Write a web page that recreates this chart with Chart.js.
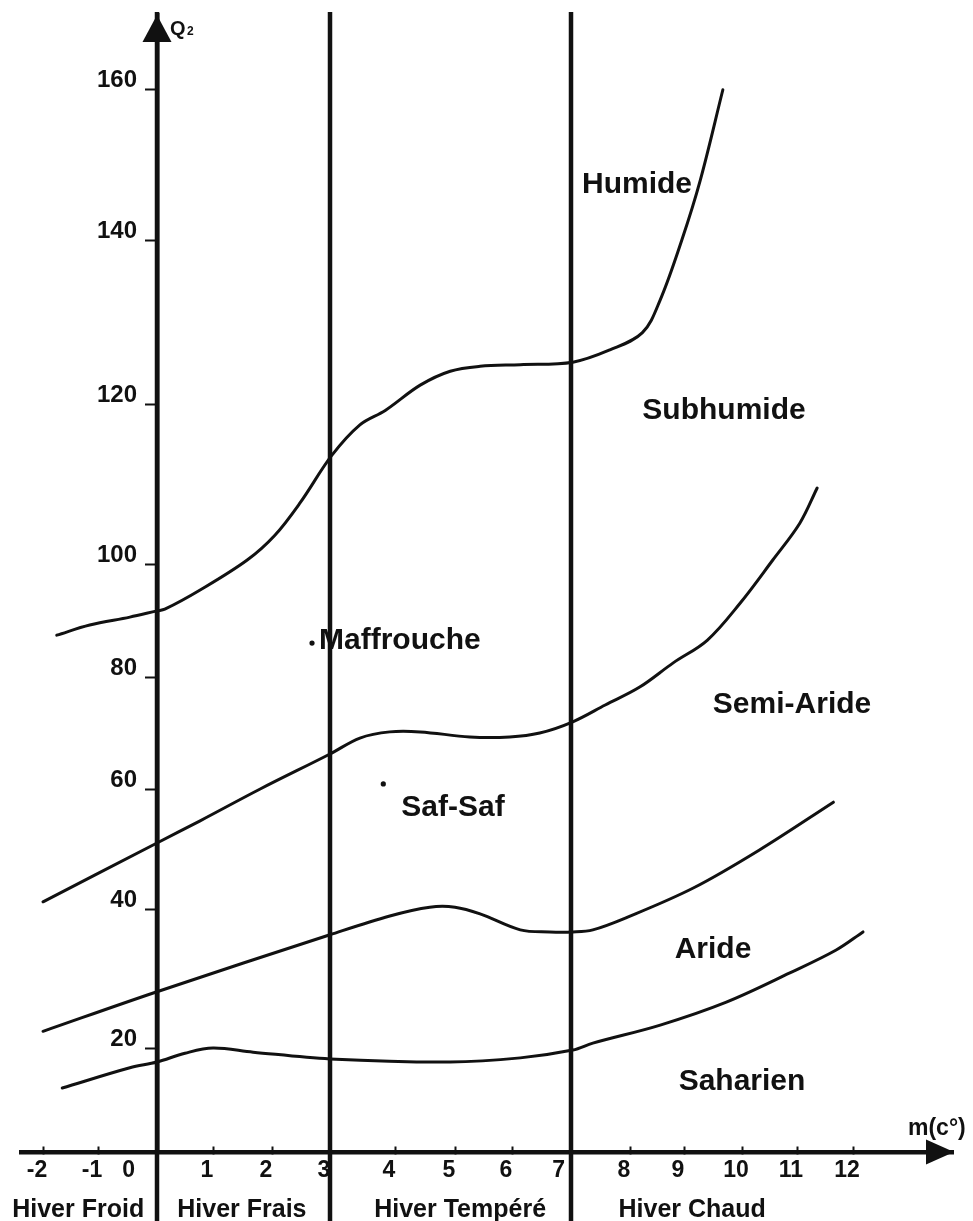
<!DOCTYPE html>
<html>
<head>
<meta charset="utf-8">
<script src="https://cdn.jsdelivr.net/npm/chart.js@4/dist/chart.umd.min.js"></script>
<style>
html,body{margin:0;padding:0;background:#fff;}
canvas{display:block;}
</style>
</head>
<body>
<canvas id="c" width="973" height="1221"></canvas>
<script>
// ---------------- DATA ----------------
const xTickValues = [-2,-1,0,1,2,3,4,5,6,7,8,9,10,11,12];
const xTickLabels = ['-2','-1','0','1','2','3','4','5','6','7','8','9','10','11','12'];
const yTickValues = [20,40,60,80,100,120,140,160];

// Limit Humide / Subhumide
const humideM  = [-1.75,-1.15,-0.46,0,0.14,0.77,1.58,2.05,2.48,3.03,3.46,3.85,4.42,4.92,5.44,6.14,7.03,7.66,8.23,8.56,8.96,9.28,9.67];
const humideQ2 = [87.4,89.2,90.6,91.7,92.0,95.4,100.5,103.6,107.6,113.6,117.4,119.2,122.3,124.0,124.6,124.8,125.1,126.6,128.7,132.7,140,147.9,159.9];
// Limit Subhumide / Semi-Aride
const subhumideM  = [-2,0,0.77,1.8,3,3.46,3.92,4.42,5.26,5.96,6.47,7.03,7.58,8.18,8.8,9.4,9.97,10.56,11.05,11.36];
const subhumideQ2 = [41.2,51,54.7,60,66.25,69.1,70.2,70.2,69.3,69.3,70,72,75,78.2,82.5,86.5,93.1,100.5,105.1,109.5];
// Limit Semi-Aride / Aride
const semiAridM  = [-2,0,3,3.92,4.58,5,5.44,6.14,6.64,7.03,7.37,7.95,9.16,10.31,11.65];
const semiAridQ2 = [22.4,28.1,36.3,39.0,40.3,40.3,39.3,37.0,36.7,36.7,37.0,38.8,43.5,49.8,57.8];
// Limit Aride / Saharien
const aridM  = [-1.65,-0.46,0,0.5,1,1.68,3,4.92,6.14,7.03,7.37,8.56,9.73,10.87,11.7,12.17];
const aridQ2 = [12.3,16.2,17.3,19.0,20,19.2,17.9,17.3,18.1,19.6,20.7,23.3,26.6,30.8,34.1,36.7];

// Stations
const stationNames = ['Maffrouche','Saf-Saf'];
const stationM  = [2.69, 3.82];
const stationQ2 = [86.0, 60.9];

// Winter zones
const zoneBounds = [0,3,7];
const zoneNames = ['Hiver Froid','Hiver Frais','Hiver Tempéré','Hiver Chaud'];

// Bioclimatic stages
const regionNames = ['Humide','Subhumide','Semi-Aride','Aride','Saharien'];

// ---------------- LAYOUT (not data) ----------------
const regionAnchors = [[8.13,147.3],[9.69,119.1],[10.91,75],[9.5,34.1],[10,13.5]];
const zoneLabelM = [-1.36,1.49,5.09,9.14];
const stationLabelOffsets = [[7,-2],[18,24]];
const xLabelPadSpaces = {0:7, 7:2};
// Hand-drawn axis graduations: relative band sizes between graduation values
const xGraduation = {values:[-2.4,-2,-1,0,1,2,3,4,5,6,7,8,9,10,11,12,13.7],
                     sizes:[22,55,59,56,59,58,65,60,57,59,59,54,58,55,56,100]};
const yGraduation = {values:[0,20,40,60,80,100,120,140,160,170],
                     sizes:[104,139,120,112,113,160,164,151,74]};

const FONT = "'Liberation Sans', Arial, Helvetica, sans-serif";
const INK = '#111';

// ---------------- custom graduated scale ----------------
class GraduatedScale extends Chart.LinearScale {
  _grad() { return this.options.graduation; }
  _frac(v) {
    const g = this._grad(); const vals = g.values, sizes = g.sizes;
    let total = 0; const cum = [0];
    for (let k = 0; k < sizes.length; k++) { total += sizes[k]; cum.push(total); }
    const n = vals.length; let i = 0;
    if (v >= vals[n-1]) i = n - 2; else { while (i < n - 2 && v > vals[i+1]) i++; }
    const t = (v - vals[i]) / (vals[i+1] - vals[i]);
    return (cum[i] + t * sizes[i]) / total;
  }
  getPixelForValue(value) { return this.getPixelForDecimal(this._frac(value)); }
  getValueForPixel(pixel) {
    const d = this.getDecimalForPixel(pixel);
    const g = this._grad(); const vals = g.values, sizes = g.sizes;
    const total = sizes.reduce((a,b)=>a+b,0); const target = d * total;
    let acc = 0;
    for (let i = 0; i < sizes.length; i++) {
      if (target <= acc + sizes[i] || i === sizes.length - 1)
        return vals[i] + (target - acc) / sizes[i] * (vals[i+1] - vals[i]);
      acc += sizes[i];
    }
  }
}
GraduatedScale.id = 'graduated';
Chart.register(GraduatedScale);

const pts = (xs, ys) => xs.map((x, i) => ({x, y: ys[i]}));
const curveStyle = {showLine:true, borderColor:INK, borderWidth:3, pointRadius:0,
  tension:0.35, fill:false, borderCapStyle:'round', borderJoinStyle:'round'};

const climagramPlugin = {
  id: 'climagram',
  beforeDatasetsDraw(chart) {
    const {ctx, scales:{x}, chartArea} = chart;
    ctx.save();
    ctx.strokeStyle = INK; ctx.lineWidth = 4.5;
    zoneBounds.forEach(m => {
      const px = x.getPixelForValue(m);
      ctx.beginPath(); ctx.moveTo(px, chartArea.top - 3); ctx.lineTo(px, chart.height); ctx.stroke();
    });
    ctx.restore();
  },
  afterDraw(chart) {
    const {ctx, scales:{x, y}, chartArea} = chart;
    const x0 = x.getPixelForValue(0), y0 = y.getPixelForValue(0);
    ctx.save();
    ctx.fillStyle = INK;
    // arrow heads
    ctx.beginPath();
    ctx.moveTo(x0, chartArea.top); ctx.lineTo(x0 - 14.5, chartArea.top + 27); ctx.lineTo(x0 + 14.5, chartArea.top + 27);
    ctx.closePath(); ctx.fill();
    ctx.beginPath();
    ctx.moveTo(chartArea.right + 1, y0); ctx.lineTo(chartArea.right - 27, y0 - 12.5); ctx.lineTo(chartArea.right - 27, y0 + 12.5);
    ctx.closePath(); ctx.fill();
    // axis titles
    ctx.textBaseline = 'alphabetic'; ctx.textAlign = 'left';
    ctx.font = 'bold 20px ' + FONT;
    ctx.fillText('Q', x0 + 13, chartArea.top + 20);
    ctx.font = 'bold 12px ' + FONT;
    ctx.fillText('2', x0 + 30, chartArea.top + 20);
    ctx.font = 'bold 23px ' + FONT;
    ctx.fillText('m(c°)', chartArea.right - 45, y0 - 17);
    // region labels
    ctx.font = 'bold 30px ' + FONT;
    ctx.textAlign = 'center'; ctx.textBaseline = 'middle';
    regionNames.forEach((name, i) => {
      ctx.fillText(name, x.getPixelForValue(regionAnchors[i][0]), y.getPixelForValue(regionAnchors[i][1]));
    });
    // station labels
    ctx.textAlign = 'left';
    stationNames.forEach((name, i) => {
      const px = x.getPixelForValue(stationM[i]), py = y.getPixelForValue(stationQ2[i]);
      ctx.fillText(name, px + stationLabelOffsets[i][0], py + stationLabelOffsets[i][1]);
    });
    // winter zone labels
    ctx.font = 'bold 25px ' + FONT;
    ctx.textAlign = 'center'; ctx.textBaseline = 'alphabetic';
    zoneNames.forEach((name, i) => {
      ctx.fillText(name, x.getPixelForValue(zoneLabelM[i]), y0 + 65);
    });
    ctx.restore();
  }
};

new Chart(document.getElementById('c').getContext('2d'), {
  type: 'scatter',
  data: {
    datasets: [
      {label:'Humide / Subhumide', data: pts(humideM, humideQ2), ...curveStyle},
      {label:'Subhumide / Semi-Aride', data: pts(subhumideM, subhumideQ2), ...curveStyle},
      {label:'Semi-Aride / Aride', data: pts(semiAridM, semiAridQ2), ...curveStyle},
      {label:'Aride / Saharien', data: pts(aridM, aridQ2), ...curveStyle},
      {label:'Stations', data: pts(stationM, stationQ2), showLine:false, pointRadius:2.6,
       pointBackgroundColor:INK, pointBorderWidth:0}
    ]
  },
  options: {
    responsive: false,
    animation: false,
    events: [],
    layout: {padding: {left: 21, right: 20, top: 15, bottom: 69}},
    plugins: {legend: {display: false}, tooltip: {enabled: false}},
    scales: {
      x: {
        type: 'graduated', graduation: xGraduation, min: -2.4, max: 13.7,
        position: {y: 0},
        afterBuildTicks: s => { s.ticks = xTickValues.map(v => ({value: v})); },
        grid: {display: true, drawOnChartArea: false, drawTicks: true, tickLength: -8, color: INK, tickWidth: 2},
        border: {display: true, color: INK, width: 4.5},
        ticks: {autoSkip: false, maxRotation: 0, minRotation: 0, padding: 13, labelOffset: -6, color: INK,
          font: {family: FONT, size: 23, weight: 'bold'},
          callback: (v, i) => xTickLabels[i] + ' '.repeat(xLabelPadSpaces[v] || 0)}
      },
      y: {
        type: 'graduated', graduation: yGraduation, min: 0, max: 170,
        position: {x: 0},
        afterBuildTicks: s => { s.ticks = yTickValues.map(v => ({value: v})); },
        grid: {display: true, drawOnChartArea: false, drawTicks: true, tickLength: 10, color: INK, tickWidth: 2},
        border: {display: true, color: INK, width: 4.5},
        ticks: {autoSkip: false, padding: 0, labelOffset: -9, color: INK,
          font: {family: FONT, size: 24, weight: 'bold'},
          callback: v => String(v) + '   '}
      }
    }
  },
  plugins: [climagramPlugin]
});
</script>
</body>
</html>
